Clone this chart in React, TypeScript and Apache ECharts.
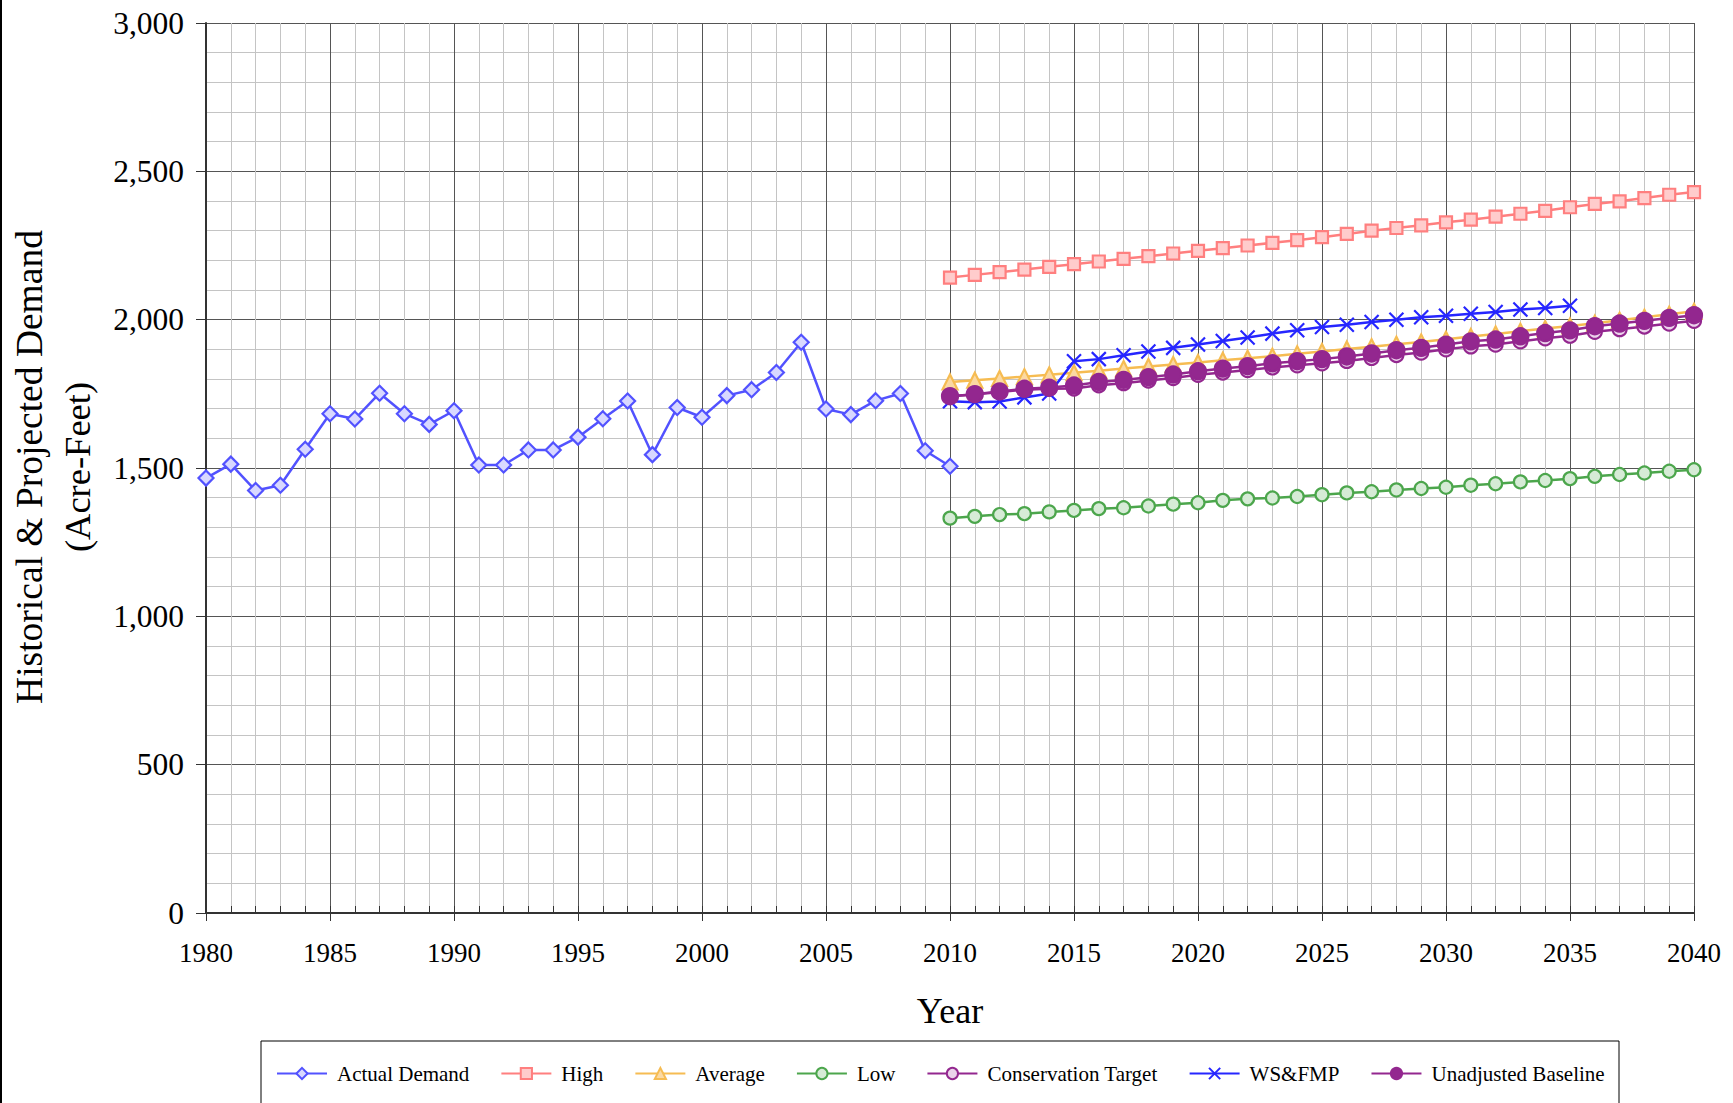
import React, { useEffect, useRef } from 'react';
import * as echarts from 'echarts';

const actualYears = [1980, 1981, 1982, 1983, 1984, 1985, 1986, 1987, 1988, 1989, 1990, 1991, 1992, 1993, 1994, 1995, 1996, 1997, 1998, 1999, 2000, 2001, 2002, 2003, 2004, 2005, 2006, 2007, 2008, 2009, 2010];
const actualDemand = [1466, 1513, 1424, 1442, 1563, 1683, 1665, 1752, 1683, 1647, 1693, 1510, 1510, 1561, 1561, 1604, 1666, 1726, 1545, 1704, 1671, 1744, 1764, 1822, 1924, 1699, 1680, 1727, 1751, 1558, 1506];

const projYears = [2010, 2011, 2012, 2013, 2014, 2015, 2016, 2017, 2018, 2019, 2020, 2021, 2022, 2023, 2024, 2025, 2026, 2027, 2028, 2029, 2030, 2031, 2032, 2033, 2034, 2035, 2036, 2037, 2038, 2039, 2040];
const high = [2142, 2151, 2160, 2169, 2178, 2187, 2196, 2205, 2214, 2223, 2232, 2241, 2250, 2259, 2268, 2278, 2289, 2300, 2309, 2318, 2328, 2337, 2347, 2357, 2367, 2379, 2390, 2399, 2410, 2421, 2430];
const average = [1790, 1796, 1802, 1808, 1814, 1821, 1828, 1835, 1842, 1849, 1856, 1863, 1870, 1877, 1885, 1893, 1901, 1909, 1917, 1925, 1934, 1943, 1952, 1961, 1970, 1979, 1988, 1998, 2008, 2018, 2028];
const low = [1331, 1337, 1343, 1346, 1352, 1357, 1363, 1366, 1372, 1378, 1383, 1391, 1396, 1399, 1404, 1410, 1416, 1420, 1426, 1431, 1435, 1442, 1447, 1453, 1458, 1464, 1472, 1478, 1483, 1489, 1494];
const conservationTarget = [1742, 1748, 1756, 1764, 1767, 1768, 1779, 1786, 1795, 1803, 1814, 1822, 1830, 1839, 1846, 1853, 1861, 1871, 1881, 1889, 1900, 1910, 1916, 1927, 1937, 1946, 1959, 1968, 1977, 1987, 1996];
const wsfmp = [1725, 1722, 1724, 1738, 1751, 1860, 1867, 1880, 1893, 1905, 1916, 1928, 1940, 1953, 1964, 1975, 1983, 1992, 2000, 2008, 2013, 2020, 2026, 2034, 2039, 2047];
const unadjustedBaseline = [1742, 1749, 1758, 1767, 1771, 1778, 1790, 1797, 1806, 1815, 1826, 1835, 1843, 1853, 1860, 1867, 1876, 1886, 1897, 1905, 1916, 1927, 1933, 1944, 1955, 1964, 1978, 1987, 1996, 2006, 2015];

const pair = (xs: number[], ys: number[]) => ys.map((y, i) => [xs[i], y]);

const FONT = '"Liberation Serif", "Times New Roman", serif';

export default function App() {
  const ref = useRef<HTMLDivElement>(null);
  useEffect(() => {
    if (!ref.current) return;
    const chart = echarts.init(ref.current, undefined, { renderer: 'svg' });
    const mk = (name: string, data: number[][], color: string, fill: string, symbol: string, size: number, z: number) => ({
      name,
      type: 'line',
      data,
      symbol,
      symbolSize: size,
      showSymbol: true,
      z,
      lineStyle: { color, width: 2.5 },
      itemStyle: { color: fill, borderColor: color, borderWidth: 2.2 },
      emphasis: { disabled: true },
    });
    const option: any = {
      animation: false,
      backgroundColor: '#ffffff',
      textStyle: { fontFamily: FONT },
      grid: { left: 206, right: 39, top: 23, bottom: 190, containLabel: false },
      xAxis: [
        {
          type: 'value', min: 1980, max: 2040, interval: 5,
          axisLine: { show: true, lineStyle: { color: '#333333', width: 2 } },
          axisTick: { show: true, length: 8, lineStyle: { color: '#333333', width: 1 } },
          axisLabel: { color: '#000', fontSize: 27, fontFamily: FONT, margin: 26, formatter: (v: number) => String(v) },
          splitLine: { show: true, lineStyle: { color: '#555555', width: 1 } },
          minorTick: { show: false, splitNumber: 5 },
          minorSplitLine: { show: true, lineStyle: { color: '#C4C4C4', width: 1 } },
        },
        {
          type: 'value', min: 1980, max: 2040, interval: 1, position: 'bottom',
          axisLine: { show: false },
          axisTick: { show: true, inside: true, length: 7, lineStyle: { color: '#333333', width: 1 } },
          axisLabel: { show: false },
          splitLine: { show: false },
        },
      ],
      yAxis: {
        type: 'value', min: 0, max: 3000, interval: 500,
        axisLine: { show: true, lineStyle: { color: '#333333', width: 2 } },
        axisTick: { show: true, length: 10, lineStyle: { color: '#333333', width: 1 } },
        axisLabel: { color: '#000', fontSize: 31.5, fontFamily: FONT, margin: 22, formatter: (v: number) => v.toLocaleString('en-US') },
        splitLine: { show: true, lineStyle: { color: '#555555', width: 1 } },
        minorTick: { show: false, splitNumber: 5 },
        minorSplitLine: { show: true, lineStyle: { color: '#C4C4C4', width: 1 } },
      },
      legend: {
        left: 276, top: 1063, padding: 0,
        itemWidth: 50, itemHeight: 14, itemGap: 31,
        textStyle: { color: '#000', fontSize: 21, fontFamily: FONT, padding: [0, 0, 0, 5] },
        data: ['Actual Demand', 'High', 'Average', 'Low', 'Conservation Target', 'WS&FMP', 'Unadjusted Baseline'],
      },
      graphic: [
        { type: 'rect', shape: { x: 0, y: 0, width: 2, height: 1103 }, style: { fill: '#000' } },
        { type: 'rect', shape: { x: 261, y: 1041, width: 1358, height: 100 }, style: { fill: 'none', stroke: '#000', lineWidth: 1 } },
        { type: 'text', x: 29, y: 467, rotation: Math.PI / 2, style: { text: 'Historical & Projected Demand', fontSize: 37.5, fontFamily: FONT, fill: '#000', align: 'center', verticalAlign: 'middle' } },
        { type: 'text', x: 77, y: 467, rotation: Math.PI / 2, style: { text: '(Acre-Feet)', fontSize: 36.5, fontFamily: FONT, fill: '#000', align: 'center', verticalAlign: 'middle' } },
        { type: 'text', x: 950, y: 1011, style: { text: 'Year', fontSize: 36, fontFamily: FONT, fill: '#000', align: 'center', verticalAlign: 'middle' } },
      ],
      series: [
        mk('Actual Demand', pair(actualYears, actualDemand), '#5252FF', '#D8D8FF', 'diamond', 15, 2),
        mk('High', pair(projYears, high), '#FF7F7F', '#FFCCCC', 'rect', 12, 3),
        mk('Average', pair(projYears, average), '#F6BC52', '#FBD9A2', 'triangle', 15, 4),
        mk('Low', pair(projYears, low), '#4CA64C', '#D6EBD6', 'circle', 13, 5),
        mk('Conservation Target', pair(projYears, conservationTarget), '#93278F', '#EBD3EB', 'circle', 14, 6),
        mk('WS&FMP', pair(projYears, wsfmp), '#2626FF', 'rgba(0,0,0,0)', 'path://M0,0L10,10M10,0L0,10', 14, 7),
        mk('Unadjusted Baseline', pair(projYears, unadjustedBaseline), '#93278F', '#93278F', 'circle', 16, 8),
      ],
    };
    chart.setOption(option);
    return () => chart.dispose();
  }, []);
  return <div ref={ref} style={{ position: 'fixed', left: 0, top: 0, width: 1733, height: 1103, background: '#fff' }} />;
}
